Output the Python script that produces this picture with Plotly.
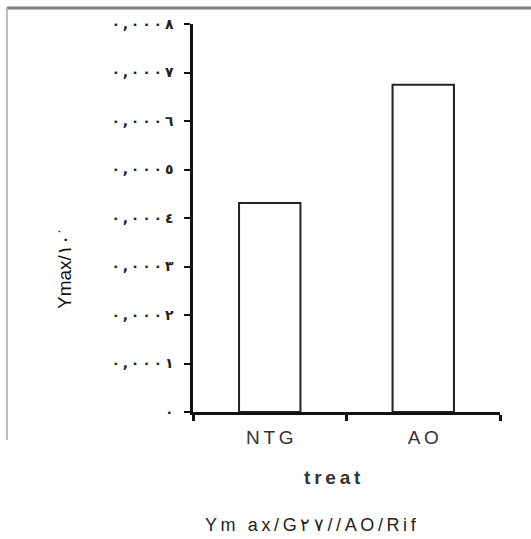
import plotly.graph_objects as go

categories = ["NTG", "AO"]
values = [0.000431, 0.000675]
tick_vals = [0, 0.0001, 0.0002, 0.0003, 0.0004, 0.0005, 0.0006, 0.0007, 0.0008]
tick_text = ["٠", "٠,٠٠٠١", "٠,٠٠٠٢", "٠,٠٠٠٣", "٠,٠٠٠٤", "٠,٠٠٠٥", "٠,٠٠٠٦", "٠,٠٠٠٧", "٠,٠٠٠٨"]
x_title = "treat"
y_title = "Ymax/١٠<sup>٠</sup>"
caption = "Ym ax/G٢٧//AO/Rif"


def spaced(s, gap="\u2009"):
    # widen letter spacing while keeping left-to-right order (LRM marks)
    return ("\u200e" + gap + "\u200e").join(list(s))


fig = go.Figure()
fig.add_trace(go.Bar(
    x=categories, y=values, width=0.4,
    marker=dict(color="white", line=dict(color="#222", width=2)),
))

W, H = 531, 539
L, R, T, B = 193, 31, 24, 127
pw, ph = W - L - R, H - T - B


def px(x):
    return (x - L) / pw


def py(y):
    return (H - B - y) / ph


fig.update_layout(
    width=W, height=H,
    margin=dict(l=L, r=R, t=T, b=B),
    paper_bgcolor="white", plot_bgcolor="white",
    showlegend=False,
    font=dict(family="Liberation Sans, Arial", color="#222"),
    xaxis=dict(
        type="category", range=[-0.5, 1.5], tickson="boundaries",
        showline=True, linecolor="#111", linewidth=2.5,
        ticks="outside", ticklen=6, tickwidth=2.5, tickcolor="#111",
        showgrid=False, zeroline=False,
        tickvals=categories, ticktext=[spaced(c) for c in categories],
        tickfont=dict(size=19, family="Liberation Sans, Arial", color="#333"),
        ticklabelstandoff=6,
    ),
    yaxis=dict(
        range=[0, 0.0008], tickvals=tick_vals, ticktext=[spaced(t) for t in tick_text],
        showline=True, linecolor="#111", linewidth=2.5,
        ticks="outside", ticklen=6, tickwidth=2, tickcolor="#111",
        showgrid=False, zeroline=False,
        tickfont=dict(size=14, family="DejaVu Sans", color="#222", weight="bold"),
        ticklabelstandoff=8,
    ),
    annotations=[
        dict(text="<b>" + spaced(x_title) + "</b>", x=px(332), y=py(477), xref="paper", yref="paper",
             showarrow=False, font=dict(size=19, family="Liberation Sans, Arial", color="#333"),
             xanchor="center", yanchor="middle"),
        dict(text=spaced(caption), x=px(311), y=py(525), xref="paper", yref="paper",
             showarrow=False, font=dict(size=18, family="Liberation Sans, Arial", color="#222"),
             xanchor="center", yanchor="middle"),
        dict(text=y_title, x=px(63), y=py(269), xref="paper", yref="paper",
             showarrow=False, textangle=-90,
             font=dict(size=19, family="Liberation Sans, Arial", color="#111"),
             xanchor="center", yanchor="middle"),
    ],
    shapes=[
        dict(type="line", xref="paper", yref="paper", x0=px(7), x1=px(531), y0=py(8), y1=py(8),
             line=dict(color="#7f7f7f", width=3), layer="above"),
        dict(type="line", xref="paper", yref="paper", x0=px(7), x1=px(7), y0=py(7.5), y1=py(440),
             line=dict(color="#aaaaaa", width=1.5)),
    ],
)

fig.write_html("out.html")
